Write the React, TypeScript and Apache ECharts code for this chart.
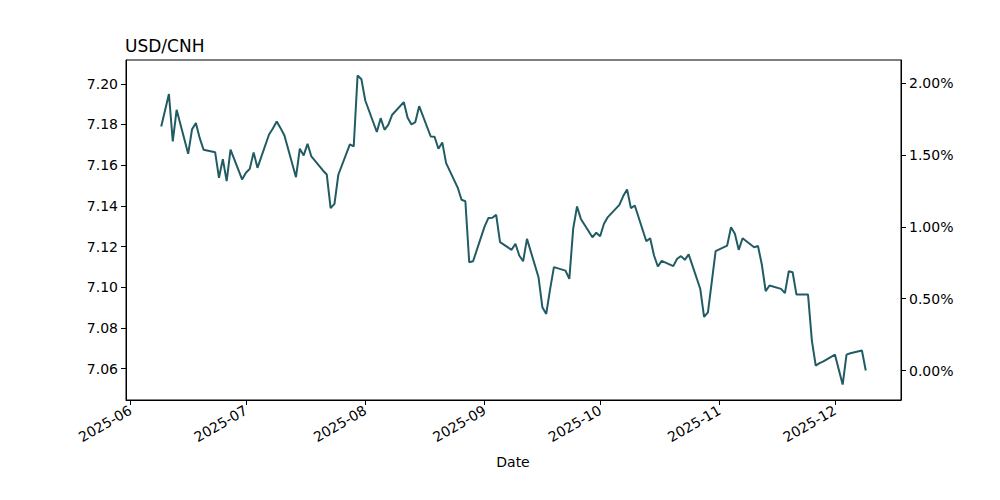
import React, { useEffect, useRef } from "react";
import * as echarts from "echarts";

const dates: string[] = [
  "2025-06-09","2025-06-10","2025-06-11","2025-06-12","2025-06-13",
  "2025-06-16","2025-06-17","2025-06-18","2025-06-19","2025-06-20",
  "2025-06-23","2025-06-24","2025-06-25","2025-06-26","2025-06-27",
  "2025-06-30","2025-07-01","2025-07-02","2025-07-03","2025-07-04",
  "2025-07-07","2025-07-08","2025-07-09","2025-07-10","2025-07-11",
  "2025-07-14","2025-07-15","2025-07-16","2025-07-17","2025-07-18",
  "2025-07-21","2025-07-22","2025-07-23","2025-07-24","2025-07-25",
  "2025-07-28","2025-07-29","2025-07-30","2025-07-31","2025-08-01",
  "2025-08-04","2025-08-05","2025-08-06","2025-08-07","2025-08-08",
  "2025-08-11","2025-08-12","2025-08-13","2025-08-14","2025-08-15",
  "2025-08-18","2025-08-19","2025-08-20","2025-08-21","2025-08-22",
  "2025-08-25","2025-08-26","2025-08-27","2025-08-28","2025-08-29",
  "2025-09-01","2025-09-02","2025-09-03","2025-09-04","2025-09-05",
  "2025-09-08","2025-09-09","2025-09-10","2025-09-11","2025-09-12",
  "2025-09-15","2025-09-16","2025-09-17","2025-09-18","2025-09-19",
  "2025-09-22","2025-09-23","2025-09-24","2025-09-25","2025-09-26",
  "2025-09-29","2025-09-30","2025-10-01","2025-10-02","2025-10-03",
  "2025-10-06","2025-10-07","2025-10-08","2025-10-09","2025-10-10",
  "2025-10-13","2025-10-14","2025-10-15","2025-10-16","2025-10-17",
  "2025-10-20","2025-10-21","2025-10-22","2025-10-23","2025-10-24",
  "2025-10-27","2025-10-28","2025-10-29","2025-10-30","2025-10-31",
  "2025-11-03","2025-11-04","2025-11-05","2025-11-06","2025-11-07",
  "2025-11-10","2025-11-11","2025-11-12","2025-11-13","2025-11-14",
  "2025-11-17","2025-11-18","2025-11-19","2025-11-20","2025-11-21",
  "2025-11-24","2025-11-25","2025-11-26","2025-11-27","2025-11-28",
  "2025-12-01","2025-12-02","2025-12-03","2025-12-04","2025-12-05",
  "2025-12-08","2025-12-09",
];

const values: number[] = [
  7.179, 7.187, 7.195, 7.1717, 7.1872,
  7.1656, 7.1776, 7.1807, 7.1733, 7.1676,
  7.1664, 7.1538, 7.163, 7.1522, 7.1676,
  7.153, 7.1563, 7.1582, 7.1663, 7.1587,
  7.1751, 7.178, 7.1815, 7.1782, 7.1746,
  7.1541, 7.1681, 7.1648, 7.1705, 7.1643,
  7.1574, 7.1554, 7.1389, 7.141, 7.1553,
  7.1702, 7.1692, 7.2041, 7.2022, 7.1918,
  7.1763, 7.1831, 7.1774, 7.1799, 7.1848,
  7.191, 7.1833, 7.18, 7.1812, 7.189,
  7.1741, 7.174, 7.1681, 7.1712, 7.161,
  7.149, 7.143, 7.1423, 7.1123, 7.1128,
  7.1299, 7.1341, 7.1342, 7.1356, 7.1222,
  7.1184, 7.1214, 7.1156, 7.1128, 7.1238,
  7.1049, 7.0902, 7.0869, 7.099, 7.1099,
  7.1082, 7.1041, 7.1287, 7.1397, 7.1336,
  7.1246, 7.1268, 7.1251, 7.1312, 7.1345,
  7.1405, 7.1448, 7.1481, 7.1389, 7.1402,
  7.1226, 7.1241, 7.1156, 7.1102, 7.113,
  7.1104, 7.114, 7.1153, 7.1135, 7.1162,
  7.0993, 7.0854, 7.0877, 7.1027, 7.1178,
  7.1205, 7.1295, 7.1263, 7.1184, 7.1241,
  7.1197, 7.1203, 7.1112, 7.0981, 7.1009,
  7.0992, 7.0971, 7.1079, 7.1074, 7.0964,
  7.0964, 7.0738, 7.0615, 7.0627, 7.0636,
  7.0669, 7.0595, 7.0522, 7.0669, 7.0676,
  7.0689, 7.0591,
];

const monthTicks: string[] = [
  "2025-06-01","2025-07-01","2025-08-01","2025-09-01","2025-10-01","2025-11-01","2025-12-01",
];
const leftTicks: number[] = [7.06, 7.08, 7.10, 7.12, 7.14, 7.16, 7.18, 7.20];
const rightTicks: number[] = [0, 0.5, 1.0, 1.5, 2.0];

const toTs = (s: string) => {
  const [y, m, d] = s.split("-").map(Number);
  return Date.UTC(y, m - 1, d);
};

export default function App() {
  const ref = useRef<HTMLDivElement>(null);
  useEffect(() => {
    if (!ref.current) return;
    const chart = echarts.init(ref.current, null, { renderer: "svg" });
    const ts = dates.map(toTs);
    const tMin = ts[0];
    const tMax = ts[ts.length - 1];
    const tPad = (tMax - tMin) * 0.05;
    const vMinD = Math.min(...values);
    const vMaxD = Math.max(...values);
    const vPad = (vMaxD - vMinD) * 0.05;
    const yMin = vMinD - vPad;
    const yMax = vMaxD + vPad;
    const base = values[values.length - 1];
    const pMin = (yMin / base - 1) * 100;
    const pMax = (yMax / base - 1) * 100;
    const font = "DejaVu Sans";
    const mt = monthTicks.map(toTs);
    chart.setOption({
      animation: false,
      grid: {
        left: 126,
        right: 99,
        top: 60,
        bottom: 100,
        show: true,
        borderColor: "#000",
        borderWidth: 1,
        backgroundColor: "transparent",
      },
      graphic: [
        {
          type: "text",
          left: 125,
          top: 37,
          style: { text: "USD/CNH", font: `17px '${font}'`, fill: "#000" },
        },
        {
          type: "text",
          x: 513,
          y: 462,
          style: {
            text: "Date",
            font: `14px '${font}'`,
            fill: "#000",
            textAlign: "center",
            textVerticalAlign: "middle",
          },
        },
      ],
      xAxis: {
        type: "value",
        min: tMin - tPad,
        max: tMax + tPad,
        scale: true,
        splitLine: { show: false },
        axisLine: { show: true, onZero: false, lineStyle: { color: "#000", width: 1 } },
        axisTick: {
          show: true,
          length: 5,
          inside: false,
          lineStyle: { color: "#000" },
          customValues: mt,
        },
        axisLabel: {
          rotate: 30,
          margin: 9,
          color: "#000",
          fontFamily: font,
          fontSize: 14,
          customValues: mt,
          showMinLabel: true,
          showMaxLabel: true,
          formatter: (v: number) => {
            const d = new Date(v);
            return `${d.getUTCFullYear()}-${String(d.getUTCMonth() + 1).padStart(2, "0")}`;
          },
          hideOverlap: false,
        },
      },
      yAxis: [
        {
          type: "value",
          position: "left",
          min: yMin,
          max: yMax,
          scale: true,
          splitLine: { show: false },
          axisLine: { show: true, onZero: false, lineStyle: { color: "#000" } },
          axisTick: {
            show: true,
            length: 5,
            lineStyle: { color: "#000" },
            customValues: leftTicks,
          },
          axisLabel: {
            color: "#000",
            fontFamily: font,
            fontSize: 14,
            margin: 8,
            customValues: leftTicks,
            formatter: (v: number) => v.toFixed(2),
          },
        },
        {
          type: "value",
          position: "right",
          min: pMin,
          max: pMax,
          scale: true,
          splitLine: { show: false },
          axisLine: { show: true, onZero: false, lineStyle: { color: "#000" } },
          axisTick: {
            show: true,
            length: 5,
            lineStyle: { color: "#000" },
            customValues: rightTicks,
          },
          axisLabel: {
            color: "#000",
            fontFamily: font,
            fontSize: 14,
            margin: 8,
            customValues: rightTicks,
            formatter: (v: number) => v.toFixed(2) + "%",
          },
        },
      ],
      series: [
        {
          type: "line",
          yAxisIndex: 0,
          data: ts.map((t, i) => [t, values[i]]),
          showSymbol: false,
          symbol: "none",
          lineStyle: { color: "#215b63", width: 2 },
        },
      ],
    });
    return () => chart.dispose();
  }, []);
  return (
    <div
      ref={ref}
      style={{ position: "fixed", left: 0, top: 0, width: 1000, height: 500, background: "#fff" }}
    />
  );
}
